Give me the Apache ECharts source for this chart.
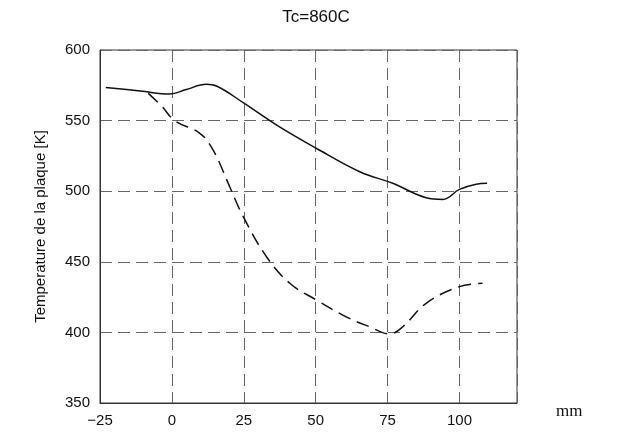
<!DOCTYPE html>
<html><head><meta charset="utf-8">
<script src="https://cdn.jsdelivr.net/npm/echarts@6/dist/echarts.min.js"></script>
<style>html,body{margin:0;padding:0;background:#fff}#c{width:625px;height:434px}</style>
</head><body><div id="c"></div>
<script>
var xTicks = [-25, 0, 25, 50, 75, 100];
var yTicks = [350, 400, 450, 500, 550, 600];
var solidX = [-23, -11, -0.7, 5, 12, 15.5, 24.8, 36.3, 50.2, 65.3, 76.8, 88.4, 94.2, 100, 105.8, 109.6];
var solidY = [573.5, 571, 568.8, 572, 575.7, 574.5, 562.7, 547, 530.4, 513.8, 505.6, 495.4, 494.2, 501.3, 505, 505.6];
var dashX = [-8.2, -3.6, 1, 9.7, 14.3, 20.1, 24.8, 32.9, 41, 50.2, 60.6, 68.75, 75.7, 80.3, 88.4, 100, 108];
var dashY = [569.3, 560.3, 550, 541, 529.2, 503.2, 482, 453.6, 434.8, 423, 411, 404, 398.9, 404, 420.6, 432.4, 434.8];

function pairs(xs, ys){ return xs.map(function(x,i){return [x, ys[i]];}); }

var chart = echarts.init(document.getElementById('c'));
chart.setOption({
  animation: false,
  title: {text: 'Tc=860C', left: 311, top: 4, textAlign: 'center',
    textStyle: {fontFamily: 'Liberation Sans', fontSize: 17, fontWeight: 'normal', color: '#111'}},
  grid: {left: 100, right: 108, top: 50, bottom: 31, show: true, borderColor: '#333', borderWidth: 1},
  xAxis: {type: 'value', min: -25, max: 120, interval: 25,
    axisLine: {show: true, onZero: false, lineStyle: {color: '#333'}}, axisTick: {show: false},
    axisLabel: {fontFamily: 'Liberation Sans', fontSize: 15, color: '#111', margin: 10,
      formatter: function(v){ return xTicks.indexOf(v) >= 0 ? String(v).replace('-', '\u2212') : ''; }},
    splitLine: {show: true, lineStyle: {color: '#666', type: [12, 6], width: 1}}},
  yAxis: {type: 'value', min: 350, max: 600, interval: 50,
    name: 'Temperature de la plaque [K]', nameLocation: 'middle', nameGap: 52,
    nameTextStyle: {fontFamily: 'Liberation Sans', fontSize: 15, color: '#111'},
    axisLine: {show: true, onZero: false, lineStyle: {color: '#333'}}, axisTick: {show: false},
    axisLabel: {fontFamily: 'Liberation Sans', fontSize: 15, color: '#111', margin: 10,
      formatter: function(v){ return yTicks.indexOf(v) >= 0 ? String(v) : ''; }},
    splitLine: {show: true, lineStyle: {color: '#666', type: [12, 6], width: 1}}},
  graphic: [{type: 'text', left: 556, top: 403,
    style: {text: 'mm', font: '17px "Liberation Serif"', fill: '#111'}}],
  series: [
    {type: 'line', data: pairs(solidX, solidY), smooth: 0.4, symbol: 'none',
      lineStyle: {color: '#111', width: 1.5}},
    {type: 'line', data: pairs(dashX, dashY), smooth: 0.4, symbol: 'none',
      lineStyle: {color: '#111', width: 1.5, type: [13, 7]}}
  ]
});
</script></body></html>
